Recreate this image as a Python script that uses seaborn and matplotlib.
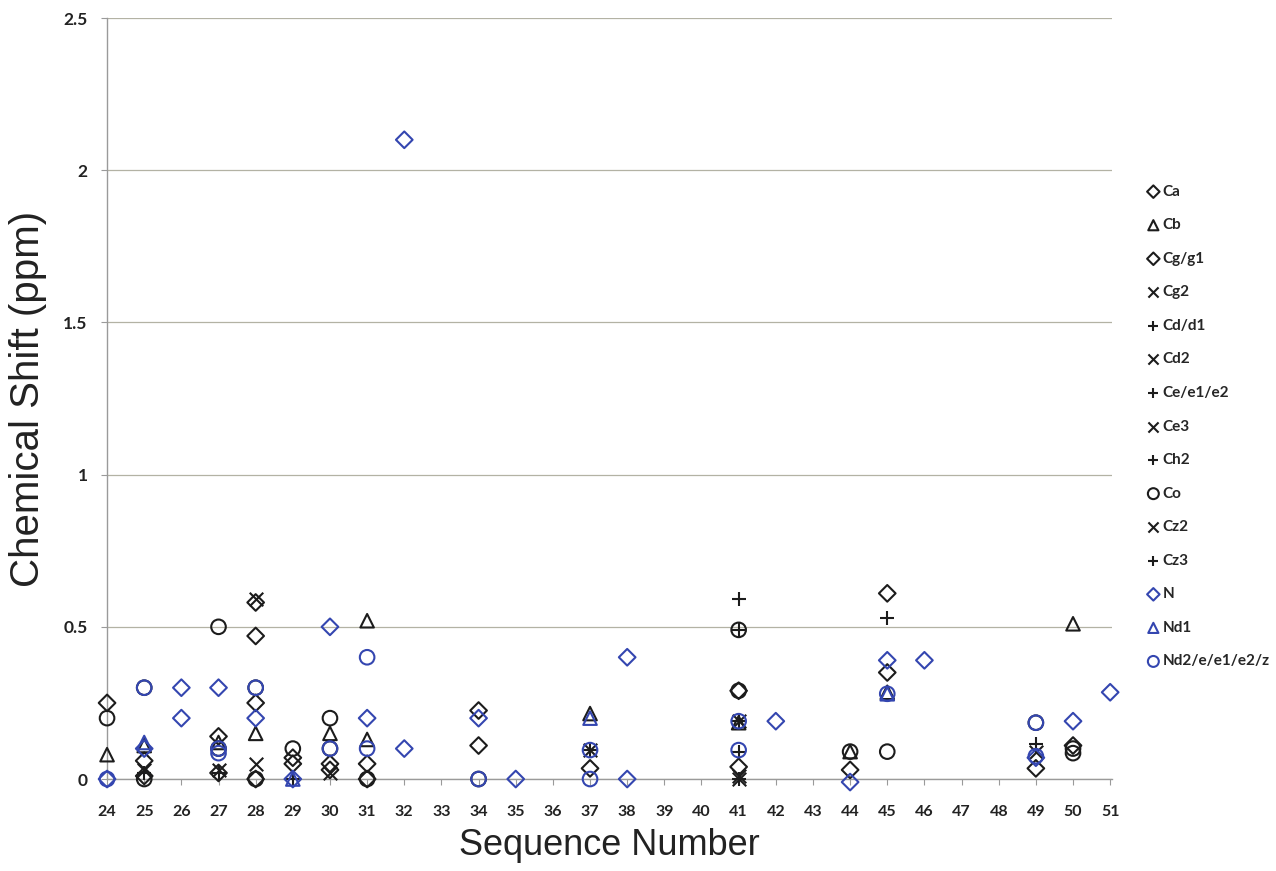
import matplotlib
matplotlib.use("Agg")
import matplotlib.pyplot as plt
import seaborn as sns
import pandas as pd

# Residue numbers shown on the x axis
residues = list(range(24, 52))

# Chemical shift differences (ppm) per atom type: residue positions and values
ca_x = [24, 25, 27, 28, 29, 30, 31, 34, 37, 41, 44, 45, 49, 50]
ca_y = [0.25, 0.06, 0.14, 0.47, 0.07, 0.05, 0.05, 0.225, 0.035, 0.04, 0.03, 0.61, 0.035, 0.11]

cb_x = [24, 25, 27, 28, 30, 31, 31, 37, 41, 44, 45, 50]
cb_y = [0.08, 0.11, 0.12, 0.15, 0.15, 0.52, 0.13, 0.215, 0.185, 0.09, 0.285, 0.51]

cg_x = [25, 27, 28, 28, 28, 29, 30, 31, 34, 41, 45]
cg_y = [0.01, 0.02, 0.58, 0.25, 0.0, 0.05, 0.03, 0.0, 0.11, 0.29, 0.35]

cg2_x = [25, 27, 28, 28]
cg2_y = [0.03, 0.03, 0.59, 0.05]

cd_x = [25, 27, 37, 41, 45]
cd_y = [0.02, 0.02, 0.095, 0.59, 0.53]

cd2_x = [30, 41]
cd2_y = [0.02, 0.0]

ce_x = [41, 41, 49]
ce_y = [0.49, 0.09, 0.115]

ce3_x = [37, 41]
ce3_y = [0.095, 0.01]

ch2_x = [41]
ch2_y = [0.19]

co_x = [24, 25, 25, 27, 27, 28, 28, 29, 30, 30, 31, 34, 41, 41, 44, 45, 49, 50, 50]
co_y = [0.2, 0.3, 0.0, 0.5, 0.1, 0.3, 0.0, 0.1, 0.2, 0.1, 0.0, 0.0, 0.49, 0.29, 0.09, 0.09, 0.185, 0.085, 0.1]

cz2_x = [41, 49]
cz2_y = [0.19, 0.09]

cz3_x = [29, 41]
cz3_y = [0.0, 0.0]

n_x = [24, 25, 26, 26, 27, 28, 29, 30, 31, 32, 32, 34, 35, 38, 38, 42, 44, 45, 46, 49, 50, 51]
n_y = [0.0, 0.1, 0.3, 0.2, 0.3, 0.2, 0.0, 0.5, 0.2, 2.1, 0.1, 0.2, 0.0, 0.4, 0.0, 0.19, -0.01, 0.39, 0.39, 0.07, 0.19, 0.285]

nd1_x = [25, 29, 37, 45]
nd1_y = [0.12, 0.0, 0.2, 0.28]

nd2_x = [24, 25, 27, 27, 28, 30, 31, 31, 34, 37, 37, 41, 41, 45, 49, 49]
nd2_y = [0.0, 0.3, 0.1, 0.085, 0.3, 0.1, 0.4, 0.1, 0.0, 0.0, 0.095, 0.19, 0.095, 0.28, 0.185, 0.075]

BLACK = "#1c1c1c"
BLUE = "#3446b0"

# (label, x values, y values, marker, colour)
series = [
    ("Ca", ca_x, ca_y, "D", BLACK),
    ("Cb", cb_x, cb_y, "^", BLACK),
    ("Cg/g1", cg_x, cg_y, "D", BLACK),
    ("Cg2", cg2_x, cg2_y, "x", BLACK),
    ("Cd/d1", cd_x, cd_y, "+", BLACK),
    ("Cd2", cd2_x, cd2_y, "x", BLACK),
    ("Ce/e1/e2", ce_x, ce_y, "+", BLACK),
    ("Ce3", ce3_x, ce3_y, "x", BLACK),
    ("Ch2", ch2_x, ch2_y, "+", BLACK),
    ("Co", co_x, co_y, "o", BLACK),
    ("Cz2", cz2_x, cz2_y, "x", BLACK),
    ("Cz3", cz3_x, cz3_y, "+", BLACK),
    ("N", n_x, n_y, "D", BLUE),
    ("Nd1", nd1_x, nd1_y, "^", BLUE),
    ("Nd2/e/e1/e2/z", nd2_x, nd2_y, "o", BLUE),
]

sns.set_theme(style="white")
plt.rcParams["font.family"] = ["Lato", "DejaVu Sans"]

fig = plt.figure(figsize=(12.76, 8.71), dpi=100)
ax = fig.add_axes([0.0839, 0.1056, 0.7876, 0.8737])

sizes = {"D": 72, "^": 95, "o": 110, "x": 95, "+": 110}
for label, xs, ys, mk, col in series:
    df = pd.DataFrame({"residue": xs, "shift": ys})
    if mk in ("x", "+"):
        sns.scatterplot(data=df, x="residue", y="shift", ax=ax, marker=mk,
                        s=sizes[mk], color=col, linewidth=1.5, label=label,
                        clip_on=False, zorder=3)
    else:
        sns.scatterplot(data=df, x="residue", y="shift", ax=ax, marker=mk,
                        s=sizes[mk], color=col, facecolors="none", edgecolor=col,
                        linewidth=1.5, label=label, clip_on=False, zorder=3)

ax.set_xlim(24, 51.05)
ax.set_ylim(0, 2.5)
ax.set_xticks(residues)
ax.set_xticklabels([str(r) for r in residues])
ax.set_yticks([0, 0.5, 1, 1.5, 2, 2.5])
ax.set_yticklabels(["0", "0.5", "1", "1.5", "2", "2.5"])

# horizontal gridlines only
ax.yaxis.grid(True, color="#b3b2a4", linewidth=0.9)
ax.xaxis.grid(False)
for side in ("top", "right"):
    ax.spines[side].set_visible(False)
for side in ("left", "bottom"):
    ax.spines[side].set_color("#9a9a9a")
    ax.spines[side].set_linewidth(1.0)
ax.tick_params(axis="both", which="major", direction="out", length=4,
               width=0.8, color="#9a9a9a", bottom=True, left=True)
ax.tick_params(axis="x", labelsize=11.5, pad=15)
ax.tick_params(axis="y", labelsize=12.5, pad=10)
for t in ax.get_xticklabels() + ax.get_yticklabels():
    t.set_fontweight("bold")
    t.set_color("#222222")

label_font = ["Liberation Sans", "DejaVu Sans"]
ax.set_xlabel("Sequence Number", fontsize=26, family=label_font,
              color="#222222", labelpad=6)
ax.set_ylabel("Chemical Shift (ppm)", fontsize=29, family=label_font,
              color="#222222", labelpad=12)

handles, labels = ax.get_legend_handles_labels()
ax.get_legend().remove()
fig.legend(handles, labels, loc="upper left", bbox_to_anchor=(0.8955, 0.795),
           frameon=False, labelspacing=1.28, handlelength=0.6,
           handletextpad=0.3, markerscale=0.75, borderaxespad=0,
           prop={"family": ["Lato", "DejaVu Sans"], "weight": "bold", "size": 11})

fig.savefig("out.png", dpi=100)
